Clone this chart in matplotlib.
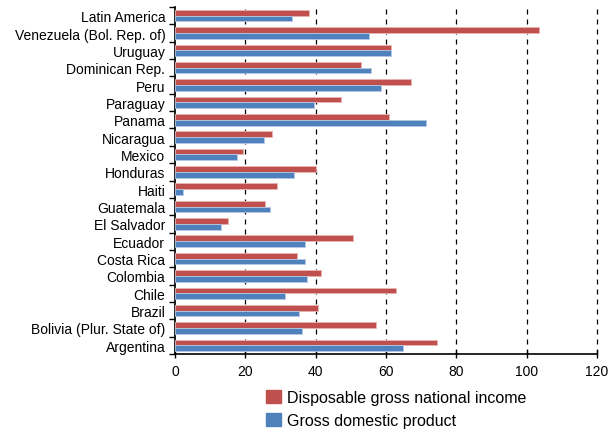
import numpy as np
import matplotlib
matplotlib.use("Agg")
import matplotlib.pyplot as plt
from matplotlib.patches import Patch

plt.rcParams['font.family'] = ['Liberation Sans', 'DejaVu Sans']

countries = [
    "Latin America", "Venezuela (Bol. Rep. of)", "Uruguay", "Dominican Rep.",
    "Peru", "Paraguay", "Panama", "Nicaragua", "Mexico", "Honduras", "Haiti",
    "Guatemala", "El Salvador", "Ecuador", "Costa Rica", "Colombia", "Chile",
    "Brazil", "Bolivia (Plur. State of)", "Argentina",
]
disposable_gni = [38.0, 103.5, 61.5, 52.9, 67.2, 47.2, 60.9, 27.5, 19.3, 40.0,
                  28.9, 25.6, 15.2, 50.5, 34.7, 41.4, 62.9, 40.8, 57.2, 74.4]
gdp = [33.3, 55.3, 61.4, 55.7, 58.6, 39.5, 71.5, 25.2, 17.5, 33.7,
       2.2, 27.0, 13.2, 37.1, 37.1, 37.5, 31.4, 35.2, 36.1, 64.8]
x_ticks = [0, 20, 40, 60, 80, 100, 120]

red = "#C0504D"
blue = "#4F81BD"

fig = plt.figure(figsize=(6.14, 4.31), dpi=100)
ax = fig.add_axes([175 / 614, 1 - 355 / 431, 422 / 614, 347 / 431])

n = len(countries)
y = np.arange(n)
h = 0.33
ax.barh(y - h / 2, disposable_gni, height=h, color=red,
        edgecolor="#E8B4B2", linewidth=0.6, zorder=3)
ax.barh(y + h / 2, gdp, height=h, color=blue,
        edgecolor="#B4C8E4", linewidth=0.6, zorder=3)

ax.set_ylim(n - 0.5, -0.5)
ax.set_xlim(0, 120)
ax.set_xticks(x_ticks)
ax.set_xticklabels([str(v) for v in x_ticks], fontsize=10)

# category labels centered, tick marks on category boundaries
ax.set_yticks(y)
ax.set_yticklabels(countries, fontsize=10)
ax.tick_params(axis='y', which='major', length=0, pad=7)
ax.set_yticks(np.arange(-0.5, n, 1.0), minor=True)
ax.tick_params(axis='y', which='minor', length=4, width=1, direction='out')
ax.tick_params(axis='x', which='major', length=6, width=1, direction='inout', pad=4)

for v in x_ticks[1:]:
    ax.axvline(v, color="black", linestyle=(0, (4, 4)), linewidth=0.9,
               zorder=1, clip_on=False)

for side in ("top", "right"):
    ax.spines[side].set_visible(False)
ax.spines["left"].set_linewidth(1.2)
ax.spines["bottom"].set_linewidth(1.2)

handles = [Patch(facecolor=red, edgecolor=red, label="Disposable gross national income"),
           Patch(facecolor=blue, edgecolor=blue, label="Gross domestic product")]
fig.legend(handles=handles, loc="upper left", bbox_to_anchor=(266 / 614, 1 - 391 / 431),
           frameon=False, fontsize=11.5, handlelength=0.95, handleheight=0.9,
           handletextpad=0.35, labelspacing=0.5, borderaxespad=0, borderpad=0)

fig.savefig("out.png", dpi=100)
